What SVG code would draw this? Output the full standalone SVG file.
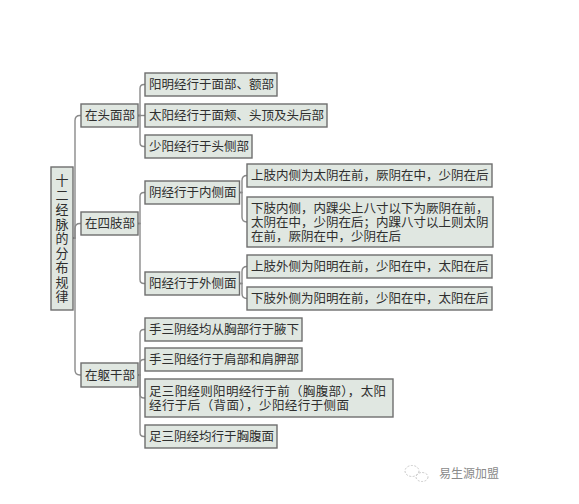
<svg xmlns="http://www.w3.org/2000/svg" width="579" height="504" viewBox="0 0 579 504">
<style>
.b{fill:#e0e7e1;stroke:#6e6e6e;stroke-width:1.4}
.t{font-family:"Noto Sans CJK SC","Noto Sans",sans-serif;font-size:12.5px;fill:#2e2e2e}
.r{font-family:"Noto Sans CJK SC","Noto Sans",sans-serif;font-size:13px;fill:#2e2e2e;writing-mode:vertical-rl;letter-spacing:1.5px}
.c{fill:none;stroke:#8a8a8a;stroke-width:1.4}
.w{font-family:"Noto Sans CJK SC","Noto Sans",sans-serif;font-size:12px;fill:#8a8a8a}
</style>
<rect width="579" height="504" fill="#ffffff"/>
<g id="connectors">
<path class="c" d="M73,238 H75 V120.5 Q75,115.5 80,115.5 H81"/>
<path class="c" d="M73,238 H75 V228.5 Q75,223.5 80,223.5 H81"/>
<path class="c" d="M73,238 H75 V370 Q75,375 80,375 H81"/>
<path class="c" d="M138,115.5 H140 V88.5 Q140,84.5 144,84.5 H145"/>
<path class="c" d="M138,115.5 H145"/>
<path class="c" d="M138,115.5 H140 V142.5 Q140,146.5 144,146.5 H145"/>
<path class="c" d="M138,223.5 H140 V196.5 Q140,192.5 144,192.5 H145"/>
<path class="c" d="M138,223.5 H140 V279.5 Q140,283.5 144,283.5 H145"/>
<path class="c" d="M239.5,192.5 H242 V180.5 Q242,175.5 247,175.5"/>
<path class="c" d="M239.5,192.5 H242 V217 Q242,222 247,222"/>
<path class="c" d="M239.5,283.5 H242 V271.5 Q242,266.5 247,266.5"/>
<path class="c" d="M239.5,283.5 H242 V293.5 Q242,298.5 247,298.5"/>
<path class="c" d="M138,375 H140 V333.5 Q140,329.5 144,329.5 H145"/>
<path class="c" d="M138,375 H140 V363.5 Q140,359.5 144,359.5 H145"/>
<path class="c" d="M138,375 H140 V394 Q140,398 144,398 H145"/>
<path class="c" d="M138,375 H140 V432.5 Q140,436.5 144,436.5 H145"/>
</g>
<g id="root">
<rect class="b" x="51" y="167" width="22" height="143"/>
<text class="r" x="62" y="174">十二经脉的分布规律</text>
</g>
<g id="head">
<rect class="b" x="81" y="104" width="57" height="23"/>
<text class="t" x="85" y="120">在头面部</text>
</g>
<g id="limbs">
<rect class="b" x="81" y="212" width="57" height="23"/>
<text class="t" x="85" y="228">在四肢部</text>
</g>
<g id="torso">
<rect class="b" x="81" y="363" width="57" height="24"/>
<text class="t" x="85" y="379.5">在躯干部</text>
</g>
<g id="head1">
<rect class="b" x="145" y="73" width="132" height="23"/>
<text class="t" x="149" y="89">阳明经行于面部、额部</text>
</g>
<g id="head2">
<rect class="b" x="145" y="104" width="182" height="23"/>
<text class="t" x="149" y="120">太阳经行于面颊、头顶及头后部</text>
</g>
<g id="head3">
<rect class="b" x="145" y="135" width="107" height="23"/>
<text class="t" x="149" y="151">少阳经行于头侧部</text>
</g>
<g id="yin">
<rect class="b" x="145" y="181" width="94.5" height="23"/>
<text class="t" x="149" y="197">阴经行于内侧面</text>
</g>
<g id="yang">
<rect class="b" x="145" y="272" width="94.5" height="23"/>
<text class="t" x="149" y="288">阳经行于外侧面</text>
</g>
<g id="yin1">
<rect class="b" x="247" y="164" width="245" height="23"/>
<text class="t" x="251" y="180">上肢内侧为太阴在前，厥阴在中，少阴在后</text>
</g>
<g id="yin2">
<rect class="b" x="247" y="197" width="246" height="50"/>
<text class="t"><tspan x="251" y="213">下肢内侧，内踝尖上八寸以下为厥阴在前，</tspan><tspan x="251" y="227">太阴在中，少阴在后；内踝八寸以上则太阴</tspan><tspan x="251" y="241">在前，厥阴在中，少阴在后</tspan></text>
</g>
<g id="yang1">
<rect class="b" x="247" y="255" width="245" height="23"/>
<text class="t" x="251" y="271">上肢外侧为阳明在前，少阳在中，太阳在后</text>
</g>
<g id="yang2">
<rect class="b" x="247" y="287" width="245" height="23"/>
<text class="t" x="251" y="303">下肢外侧为阳明在前，少阳在中，太阳在后</text>
</g>
<g id="torso1">
<rect class="b" x="145" y="318" width="157" height="23"/>
<text class="t" x="149" y="334">手三阴经均从胸部行于腋下</text>
</g>
<g id="torso2">
<rect class="b" x="145" y="348" width="157" height="23"/>
<text class="t" x="149" y="364">手三阳经行于肩部和肩胛部</text>
</g>
<g id="torso3">
<rect class="b" x="145" y="379" width="248" height="38"/>
<text class="t" x="149" y="395.5" textLength="237" lengthAdjust="spacing">足三阳经则阳明经行于前（胸腹部），太阳</text>
<text class="t" x="149" y="409.5" textLength="200" lengthAdjust="spacing">经行于后（背面），少阳经行于侧面</text>
</g>
<g id="torso4">
<rect class="b" x="145" y="425" width="132" height="23"/>
<text class="t" x="149" y="441">足三阴经均行于胸腹面</text>
</g>
<g id="watermark">
<ellipse cx="412" cy="471" rx="7" ry="5.5" fill="none" stroke="#c8c8c8" stroke-width="1" stroke-dasharray="2 1.5"/>
<ellipse cx="422" cy="477" rx="6" ry="4.5" fill="none" stroke="#c8c8c8" stroke-width="1" stroke-dasharray="2 1.5"/>
<text class="w" x="439" y="478">易生源加盟</text>
</g>
</svg>
